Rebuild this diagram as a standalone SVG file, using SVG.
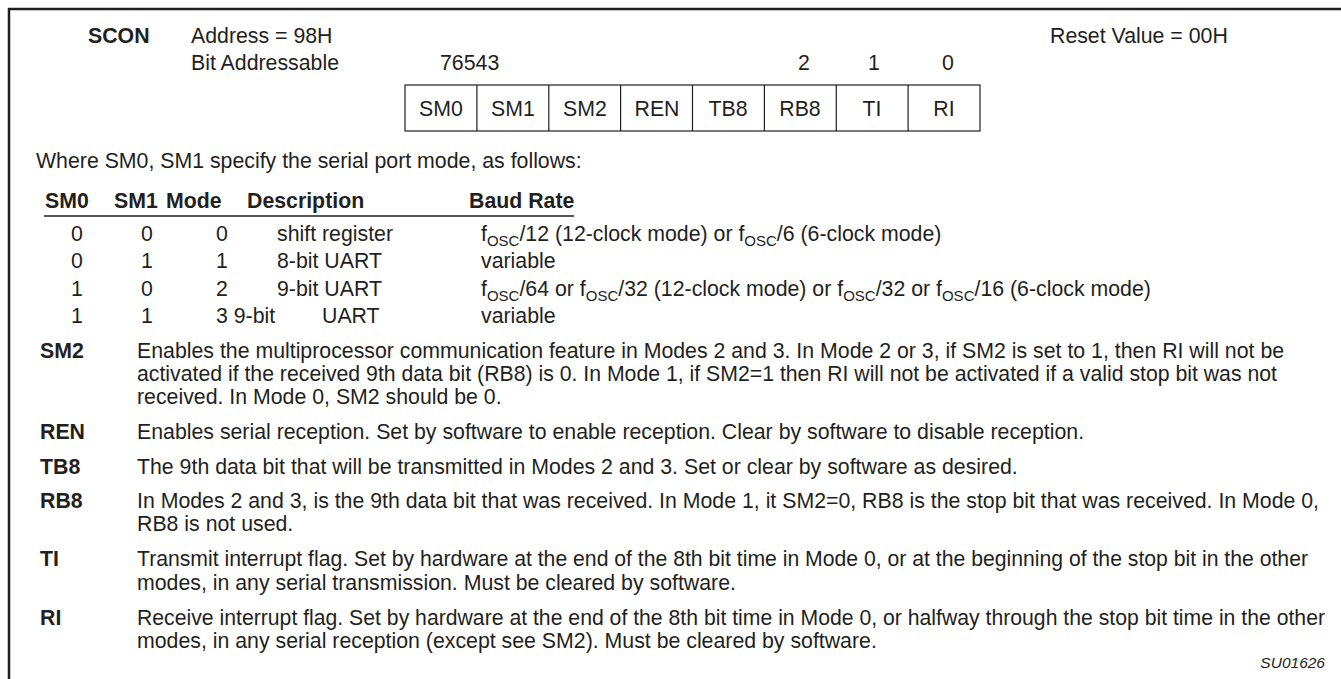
<svg xmlns="http://www.w3.org/2000/svg" width="1341" height="679" viewBox="0 0 1341 679">
<style>
text{font-family:"Liberation Sans",Arial,sans-serif;font-size:21.3px;fill:#231f20}
.b{font-weight:bold}
.c{text-anchor:middle}
.s{font-size:15px}
.it{font-style:italic;font-size:15.5px;text-anchor:end}
.ln{stroke:#231f20;fill:none}
</style>
<rect width="1341" height="679" fill="#fff"/>
<g id="frame">
<line class="ln" x1="8" y1="9" x2="1341" y2="9" stroke-width="2.5"/>
<line class="ln" x1="9" y1="8" x2="9" y2="679" stroke-width="2.5"/>
</g>
<g id="header">
<text class="b" x="88" y="43">SCON</text>
<text x="191" y="43">Address = 98H</text>
<text x="1050" y="43">Reset Value = 00H</text>
<text x="191" y="70">Bit Addressable</text>
<text x="440" y="70">76543</text>
<text class="c" x="804" y="70">2</text>
<text class="c" x="874" y="70">1</text>
<text class="c" x="948" y="70">0</text>
</g>
<g id="register">
<rect class="ln" x="405" y="85" width="575" height="46" stroke-width="1.2"/>
<g class="ln" stroke-width="1.2">
<line x1="476.9" y1="85" x2="476.9" y2="131"/>
<line x1="548.8" y1="85" x2="548.8" y2="131"/>
<line x1="620.6" y1="85" x2="620.6" y2="131"/>
<line x1="692.5" y1="85" x2="692.5" y2="131"/>
<line x1="764.4" y1="85" x2="764.4" y2="131"/>
<line x1="836.3" y1="85" x2="836.3" y2="131"/>
<line x1="908.1" y1="85" x2="908.1" y2="131"/>
</g>
<text class="c" x="441" y="116">SM0</text>
<text class="c" x="513" y="116">SM1</text>
<text class="c" x="585" y="116">SM2</text>
<text class="c" x="657" y="116">REN</text>
<text class="c" x="728" y="116">TB8</text>
<text class="c" x="800" y="116">RB8</text>
<text class="c" x="872" y="116">TI</text>
<text class="c" x="944" y="116">RI</text>
</g>
<g id="mode-table">
<text x="36" y="168">Where SM0, SM1 specify the serial port mode, as follows:</text>
<text class="b" x="45" y="208">SM0</text>
<text class="b" x="114" y="208">SM1</text>
<text class="b" x="166" y="208">Mode</text>
<text class="b" x="247" y="208">Description</text>
<text class="b" x="469" y="208">Baud Rate</text>
<line class="ln" x1="44" y1="216" x2="574" y2="216" stroke-width="1.5"/>
<text x="71" y="241">0</text><text x="141" y="241">0</text><text x="216" y="241">0</text>
<text x="277" y="241">shift register</text>
<text x="481" y="241">f<tspan class="s" dy="5">OSC</tspan><tspan dy="-5">/12 (12-clock mode) or f</tspan><tspan class="s" dy="5">OSC</tspan><tspan dy="-5">/6 (6-clock mode)</tspan></text>
<text x="71" y="268">0</text><text x="141" y="268">1</text><text x="216" y="268">1</text>
<text x="277" y="268">8-bit UART</text>
<text x="481" y="268">variable</text>
<text x="71" y="296">1</text><text x="141" y="296">0</text><text x="216" y="296">2</text>
<text x="277" y="296">9-bit UART</text>
<text x="481" y="296">f<tspan class="s" dy="5">OSC</tspan><tspan dy="-5">/64 or f</tspan><tspan class="s" dy="5">OSC</tspan><tspan dy="-5">/32 (12-clock mode) or f</tspan><tspan class="s" dy="5">OSC</tspan><tspan dy="-5">/32 or f</tspan><tspan class="s" dy="5">OSC</tspan><tspan dy="-5">/16 (6-clock mode)</tspan></text>
<text x="71" y="323">1</text><text x="141" y="323">1</text><text x="216" y="323">3 9-bit</text>
<text x="322" y="323">UART</text>
<text x="481" y="323">variable</text>
</g>
<g id="bit-descriptions">
<text class="b" x="40" y="358">SM2</text>
<text x="137" y="358">Enables the multiprocessor communication feature in Modes 2 and 3. In Mode 2 or 3, if SM2 is set to 1, then RI will not be</text>
<text x="137" y="381" textLength="1140" lengthAdjust="spacingAndGlyphs">activated if the received 9th data bit (RB8) is 0. In Mode 1, if SM2=1 then RI will not be activated if a valid stop bit was not</text>
<text x="137" y="404">received. In Mode 0, SM2 should be 0.</text>
<text class="b" x="40" y="439">REN</text>
<text x="137" y="439">Enables serial reception. Set by software to enable reception. Clear by software to disable reception.</text>
<text class="b" x="40" y="474">TB8</text>
<text x="137" y="474">The 9th data bit that will be transmitted in Modes 2 and 3. Set or clear by software as desired.</text>
<text class="b" x="40" y="508">RB8</text>
<text x="137" y="508">In Modes 2 and 3, is the 9th data bit that was received. In Mode 1, it SM2=0, RB8 is the stop bit that was received. In Mode 0,</text>
<text x="137" y="531">RB8 is not used.</text>
<text class="b" x="40" y="566">TI</text>
<text x="137" y="566" textLength="1171" lengthAdjust="spacingAndGlyphs">Transmit interrupt flag. Set by hardware at the end of the 8th bit time in Mode 0, or at the beginning of the stop bit in the other</text>
<text x="137" y="590">modes, in any serial transmission. Must be cleared by software.</text>
<text class="b" x="40" y="625">RI</text>
<text x="137" y="625" textLength="1188" lengthAdjust="spacingAndGlyphs">Receive interrupt flag. Set by hardware at the end of the 8th bit time in Mode 0, or halfway through the stop bit time in the other</text>
<text x="137" y="648">modes, in any serial reception (except see SM2). Must be cleared by software.</text>
<text class="it" x="1325" y="668">SU01626</text>
</g>
</svg>
